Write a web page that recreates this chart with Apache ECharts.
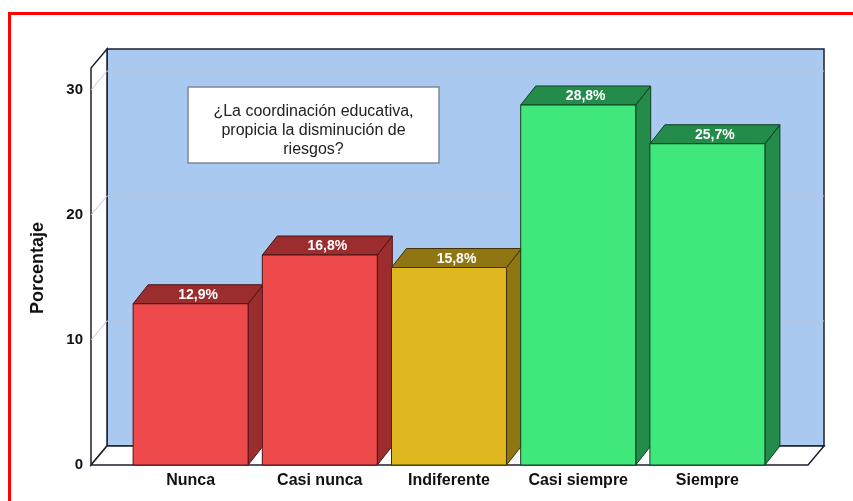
<!DOCTYPE html>
<html>
<head>
<meta charset="utf-8">
<script src="https://cdn.jsdelivr.net/npm/echarts@6/dist/echarts.min.js"></script>
<style>
  html, body { margin: 0; padding: 0; background: #fff; }
  #chart { width: 853px; height: 501px; }
</style>
</head>
<body>
<div id="chart"></div>
<script>
const categories = ['Nunca', 'Casi nunca', 'Indiferente', 'Casi siempre', 'Siempre']
const percentages = [12.9, 16.8, 15.8, 28.8, 25.7]
const yTicks = [0, 10, 20, 30]
const frontColors = ['#ee4a4c', '#ee4a4c', '#dfb81f', '#40e87b', '#40e87b']
const sideColors = ['#9c2d2e', '#9c2d2e', '#8f7612', '#248c4a', '#248c4a']
const edgeColors = ['#4a1414', '#4a1414', '#3e3206', '#0f3d1f', '#0f3d1f']
const title = '¿La coordinación educativa,\npropicia la disminución de\nriesgos?'

// 3d depth offsets
const BAR_DX = 15
const BAR_DY = -19
const WALL_DX = 16
const WALL_DY = -19
const FONT = '"Liberation Sans", Arial, sans-serif'

function fmtPct(v) {
  return v.toFixed(1).replace('.', ',') + '%'
}

function renderFrame(params, api) {
  const cs = params.coordSys
  const left = cs.x - 35
  const right = cs.x + cs.width + 36
  const bottom = cs.y + cs.height
  const top = cs.y - 22
  const edge = '#1b2030'
  const children = [
    {
      type: 'rect',
      shape: { x: left + WALL_DX, y: top + WALL_DY, width: right - left, height: bottom - top },
      style: { fill: '#a9c9f0', stroke: edge, lineWidth: 1.5 }
    },
    {
      type: 'polygon',
      shape: { points: [[left, bottom], [left, top], [left + WALL_DX, top + WALL_DY], [left + WALL_DX, bottom + WALL_DY]] },
      style: { fill: '#ffffff', stroke: edge, lineWidth: 1.5 }
    },
    {
      type: 'polygon',
      shape: { points: [[left, bottom], [right, bottom], [right + WALL_DX, bottom + WALL_DY], [left + WALL_DX, bottom + WALL_DY]] },
      style: { fill: '#ffffff', stroke: edge, lineWidth: 1.5 }
    }
  ]
  yTicks.forEach((t) => {
    if (t === 0) return
    const y = api.coord([0, t])[1]
    children.push({
      type: 'line',
      shape: { x1: left + WALL_DX, y1: y + WALL_DY, x2: right + WALL_DX, y2: y + WALL_DY },
      style: { stroke: '#b9c6d6', lineWidth: 1 }
    })
    children.push({
      type: 'line',
      shape: { x1: left, y1: y, x2: left + WALL_DX, y2: y + WALL_DY },
      style: { stroke: '#c8c8c8', lineWidth: 1 }
    })
  })
  return { type: 'group', children }
}

function renderBar(params, api) {
  const idx = api.value(0)
  const val = api.value(1)
  const base = api.coord([idx, 0])
  const top = api.coord([idx, val])
  const w = api.size([1, 0])[0] * 0.89
  const xl = top[0] - w / 2
  const xr = top[0] + w / 2
  const yt = top[1]
  const yb = base[1]
  const edge = edgeColors[idx]
  return {
    type: 'group',
    children: [
      {
        type: 'polygon',
        shape: { points: [[xr, yb], [xr, yt], [xr + BAR_DX, yt + BAR_DY], [xr + BAR_DX, yb + BAR_DY]] },
        style: { fill: sideColors[idx], stroke: edge, lineWidth: 1 }
      },
      {
        type: 'polygon',
        shape: { points: [[xl, yt], [xr, yt], [xr + BAR_DX, yt + BAR_DY], [xl + BAR_DX, yt + BAR_DY]] },
        style: { fill: sideColors[idx], stroke: edge, lineWidth: 1 }
      },
      {
        type: 'rect',
        shape: { x: xl, y: yt, width: w, height: yb - yt },
        style: { fill: frontColors[idx], stroke: edge, lineWidth: 1 }
      },
      {
        type: 'text',
        style: {
          x: top[0] + BAR_DX / 2,
          y: yt + BAR_DY / 2 + 1,
          text: fmtPct(val),
          fill: '#ffffff',
          font: 'bold 14px ' + FONT,
          align: 'center',
          verticalAlign: 'middle'
        }
      }
    ]
  }
}

const chart = echarts.init(document.getElementById('chart'), null, { renderer: 'canvas' })

chart.setOption({
  animation: false,
  backgroundColor: '#ffffff',
  grid: {
    left: 126,
    right: 81,
    top: 90,
    bottom: 36
  },
  xAxis: {
    type: 'category',
    data: categories,
    axisLine: { show: false },
    axisTick: { show: false },
    axisLabel: {
      interval: 0,
      color: '#111',
      fontFamily: FONT,
      fontWeight: 'bold',
      fontSize: 16,
      margin: 8
    }
  },
  yAxis: {
    type: 'value',
    min: 0,
    max: 30,
    interval: 10,
    axisLine: { show: false },
    axisTick: { show: false },
    splitLine: { show: false },
    axisLabel: {
      color: '#111',
      fontFamily: FONT,
      fontWeight: 'bold',
      fontSize: 15,
      margin: 43,
      padding: [5, 0, 0, 0]
    }
  },
  graphic: [
    {
      type: 'rect',
      z: 100,
      shape: { x: 9.5, y: 13.5, width: 900, height: 600 },
      style: { fill: 'none', stroke: '#ff0000', lineWidth: 3 }
    },
    {
      type: 'text',
      z: 100,
      x: 38,
      y: 268,
      rotation: Math.PI / 2,
      style: {
        text: 'Porcentaje',
        fill: '#111',
        font: 'bold 18px ' + FONT,
        align: 'center',
        verticalAlign: 'middle'
      }
    },
    {
      type: 'rect',
      z: 100,
      shape: { x: 188, y: 87, width: 251, height: 76 },
      style: { fill: '#ffffff', stroke: '#7d8898', lineWidth: 1.5 }
    },
    {
      type: 'text',
      z: 101,
      x: 313.5,
      y: 131,
      style: {
        text: title,
        fill: '#222',
        font: '16px ' + FONT,
        lineHeight: 19,
        align: 'center',
        verticalAlign: 'middle'
      }
    }
  ],
  series: [
    {
      type: 'custom',
      renderItem: renderFrame,
      data: [[0, 0]],
      silent: true,
      z: 1
    },
    {
      type: 'custom',
      renderItem: renderBar,
      data: percentages.map((v, i) => [i, v]),
      z: 2
    }
  ]
})
</script>
</body>
</html>
